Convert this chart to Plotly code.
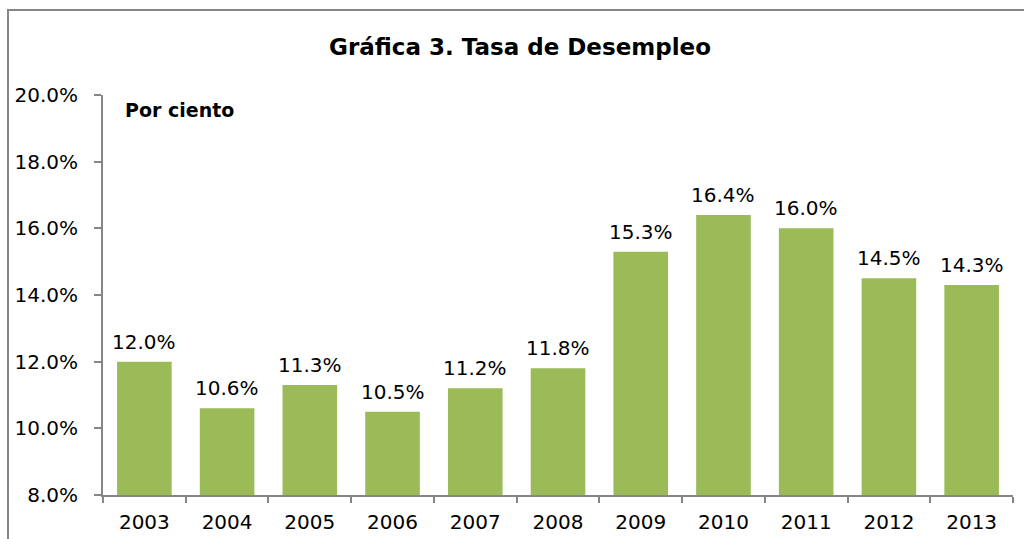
import plotly.graph_objects as go

years = ["2003", "2004", "2005", "2006", "2007", "2008", "2009", "2010", "2011", "2012", "2013"]
rates = [12.0, 10.6, 11.3, 10.5, 11.2, 11.8, 15.3, 16.4, 16.0, 14.5, 14.3]
y_ticks = [8, 10, 12, 14, 16, 18, 20]
y_tick_text = [f"{v:.1f}%" for v in y_ticks]

BAR = "#9BBB59"
AX = "#868686"
FONT = "DejaVu Sans"

W, H = 1024, 539
L, R, T, B = 103, 11, 95, 44
PW, PH = W - L - R, H - T - B

fig = go.Figure(go.Bar(
    x=years, y=rates,
    marker=dict(color=BAR, line=dict(width=0)),
    width=0.66,
))

# value labels: x given as category index so the axis places them
for i, v in enumerate(rates):
    fig.add_annotation(x=i, y=v, text=f"{v:.1f}%", showarrow=False,
                       xanchor="center", yanchor="bottom", yshift=6,
                       font=dict(family=FONT, size=20, color="#000000"))

fig.update_layout(
    width=W, height=H,
    margin=dict(l=L, r=R, t=T, b=B, autoexpand=False),
    paper_bgcolor="white", plot_bgcolor="white",
    showlegend=False,
    title=dict(text="<b>Gráfica 3. Tasa de Desempleo</b>", x=520 / W, xref="container",
               xanchor="center", y=1 - 47 / H, yref="container", yanchor="middle",
               font=dict(family=FONT, size=23, color="#000000")),
    font=dict(family=FONT, size=20, color="#000000"),
)
fig.update_yaxes(range=[8, 20], tickvals=y_ticks, ticktext=y_tick_text, automargin=False,
                 showgrid=False, zeroline=False, showline=True, linecolor=AX, linewidth=2,
                 ticks="outside", ticklen=7, tickcolor=AX, tickwidth=2,
                 ticklabelstandoff=12, tickfont=dict(family=FONT, size=20))
fig.update_xaxes(type="category", range=[-0.5, len(years) - 0.5], tickangle=0, automargin=False,
                 showgrid=False, showline=True, linecolor=AX, linewidth=2,
                 ticks="outside", tickson="boundaries", ticklen=6, tickcolor=AX, tickwidth=2,
                 ticklabelstandoff=8, tickfont=dict(family=FONT, size=20))

fig.add_annotation(text="<b>Por ciento</b>", x=(123 - L) / PW, y=(H - B - 110) / PH,
                   xref="paper", yref="paper",
                   xanchor="left", yanchor="middle", showarrow=False,
                   font=dict(family=FONT, size=19, color="#000000"))

fig.add_shape(type="rect", xref="paper", yref="paper",
              x0=(8 - L) / PW, x1=1.3, y0=-0.5, y1=(H - B - 10) / PH,
              line=dict(color=AX, width=2), fillcolor="rgba(0,0,0,0)", layer="below")

fig.write_html("out.html", config={"displayModeBar": False},
               post_script="document.body.style.margin='0';document.body.style.overflow='hidden';")
